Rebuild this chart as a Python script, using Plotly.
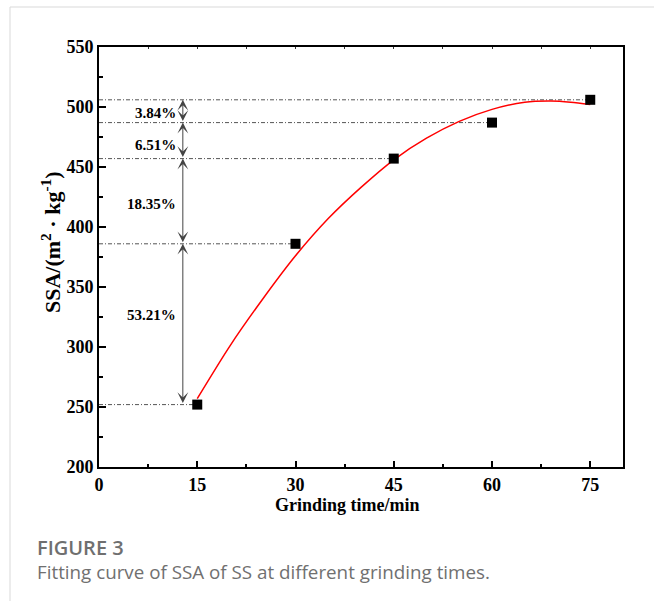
import plotly.graph_objects as go

# ---- data ----
grind_time = [15, 30, 45, 60, 75]            # min
ssa = [252, 386, 457, 487, 506]              # m2/kg

# fitted curve
fit_x = [15, 20, 25, 30, 35, 40, 45, 50, 55, 60, 65, 69, 72, 75]
fit_y = [257, 301, 340, 376, 407, 433, 456, 474, 488, 498, 504, 505, 504, 502]

# growth-rate annotations
pct_labels = ["53.21%", "18.35%", "6.51%", "3.84%"]
pct_label_y = [327, 419.5, 468, 495.3]
arrow_x = 12.8
label_x = 12.1

x_ticks = [0, 15, 30, 45, 60, 75]
y_ticks = [200, 250, 300, 350, 400, 450, 500, 550]

W, H = 654, 601
L, R, T, B = 99, 31, 47, 134
pw, ph = W - L - R, H - T - B


def px(xp):
    return (xp - L) / pw


def py(yp):
    return (H - B - yp) / ph


serif = "Liberation Serif"

fig = go.Figure()

# dash-dot guide lines from the axis to each point
for xi, yi in zip(grind_time, ssa):
    fig.add_trace(go.Scatter(x=[0, xi], y=[yi, yi], mode="lines",
                             line=dict(color="#555555", width=1, dash="4px,2px,1px,2px"),
                             hoverinfo="skip", showlegend=False))

# fitted curve
fig.add_trace(go.Scatter(x=fit_x, y=fit_y, mode="lines",
                         line=dict(color="#ff0000", width=1.5, shape="spline", smoothing=0.8),
                         showlegend=False))

# measured points
fig.add_trace(go.Scatter(x=grind_time, y=ssa, mode="markers",
                         marker=dict(symbol="square", size=10, color="black"),
                         showlegend=False))

# invisible trace to carry the top axis
fig.add_trace(go.Scatter(x=[0, 80], y=[None, None], xaxis="x2", mode="lines",
                         showlegend=False, hoverinfo="skip"))

# double arrows between consecutive levels
for lo, hi in zip(ssa[:-1], ssa[1:]):
    fig.add_annotation(x=arrow_x, y=hi, ax=arrow_x, ay=lo,
                       xref="x", yref="y", axref="x", ayref="y",
                       text="", showarrow=True, arrowside="end+start",
                       arrowhead=3, startarrowhead=3,
                       arrowsize=1.8, startarrowsize=1.8,
                       arrowwidth=1, arrowcolor="#444444")

for t, yv in zip(pct_labels, pct_label_y):
    fig.add_annotation(x=label_x, y=yv, xref="x", yref="y", text=t,
                       showarrow=False, xanchor="right", yanchor="middle",
                       font=dict(family=serif, size=15, color="black", weight="bold"))

# axis titles
fig.add_annotation(x=px(347), y=py(505), xref="paper", yref="paper",
                   text="Grinding time/min", showarrow=False,
                   xanchor="center", yanchor="middle",
                   font=dict(family=serif, size=18, color="black", weight="bold"))
fig.add_annotation(x=px(51), y=py(242), xref="paper", yref="paper",
                   text="SSA/(m<sup>2</sup>&nbsp;·&nbsp;kg<sup>-1</sup>)", showarrow=False,
                   textangle=-90, xanchor="center", yanchor="middle",
                   font=dict(family=serif, size=22, color="black", weight="bold"))

# caption
fig.add_annotation(x=px(35), y=py(547), xref="paper", yref="paper",
                   text="FIGURE 3", showarrow=False, xanchor="left", yanchor="middle",
                   font=dict(family="Open Sans", size=20, color="#6f6f6f", weight=600))
fig.add_annotation(x=px(35), y=py(572), xref="paper", yref="paper",
                   text="Fitting curve of SSA of SS at different grinding times.",
                   showarrow=False, xanchor="left", yanchor="middle",
                   font=dict(family="Open Sans", size=18.8, color="#707070"))

# card border
fig.add_shape(type="rect", xref="paper", yref="paper",
              x0=px(10), x1=px(700), y0=py(700), y1=py(7),
              line=dict(color="#d9d9d9", width=1), fillcolor="rgba(0,0,0,0)", layer="below")

tickfont = dict(family=serif, size=18, color="black", weight="bold")

fig.update_layout(
    width=W, height=H,
    margin=dict(l=L, r=R, t=T, b=B),
    paper_bgcolor="white", plot_bgcolor="white",
    font=dict(family=serif, color="black"),
    showlegend=False,
    xaxis=dict(range=[0, 80], tickvals=x_ticks, ticktext=[str(v) for v in x_ticks],
               ticks="inside", ticklen=6, tickwidth=1.5, tickcolor="black",
               minor=dict(dtick=7.5, tick0=0, ticks="inside", ticklen=3.5, tickwidth=1.5,
                          tickcolor="black"),
               showline=True, linecolor="black", linewidth=2, mirror=True,
               showgrid=False, zeroline=False, tickfont=tickfont),
    xaxis2=dict(range=[0, 80], overlaying="x", side="top", anchor="y",
                tickmode="linear", tick0=0, dtick=7.5, ticks="inside", ticklen=2,
                tickwidth=1, tickcolor="#333333", showticklabels=False,
                showline=False, showgrid=False, zeroline=False),
    yaxis=dict(range=[200, 550], tickvals=y_ticks, ticktext=[str(v) for v in y_ticks],
               ticks="inside", ticklen=7, tickwidth=1.5, tickcolor="black",
               minor=dict(dtick=25, tick0=200, ticks="inside", ticklen=4, tickwidth=1.5,
                          tickcolor="black"),
               showline=True, linecolor="black", linewidth=2, mirror=True,
               showgrid=False, zeroline=False, tickfont=tickfont),
)

fig.write_html("out.html")
